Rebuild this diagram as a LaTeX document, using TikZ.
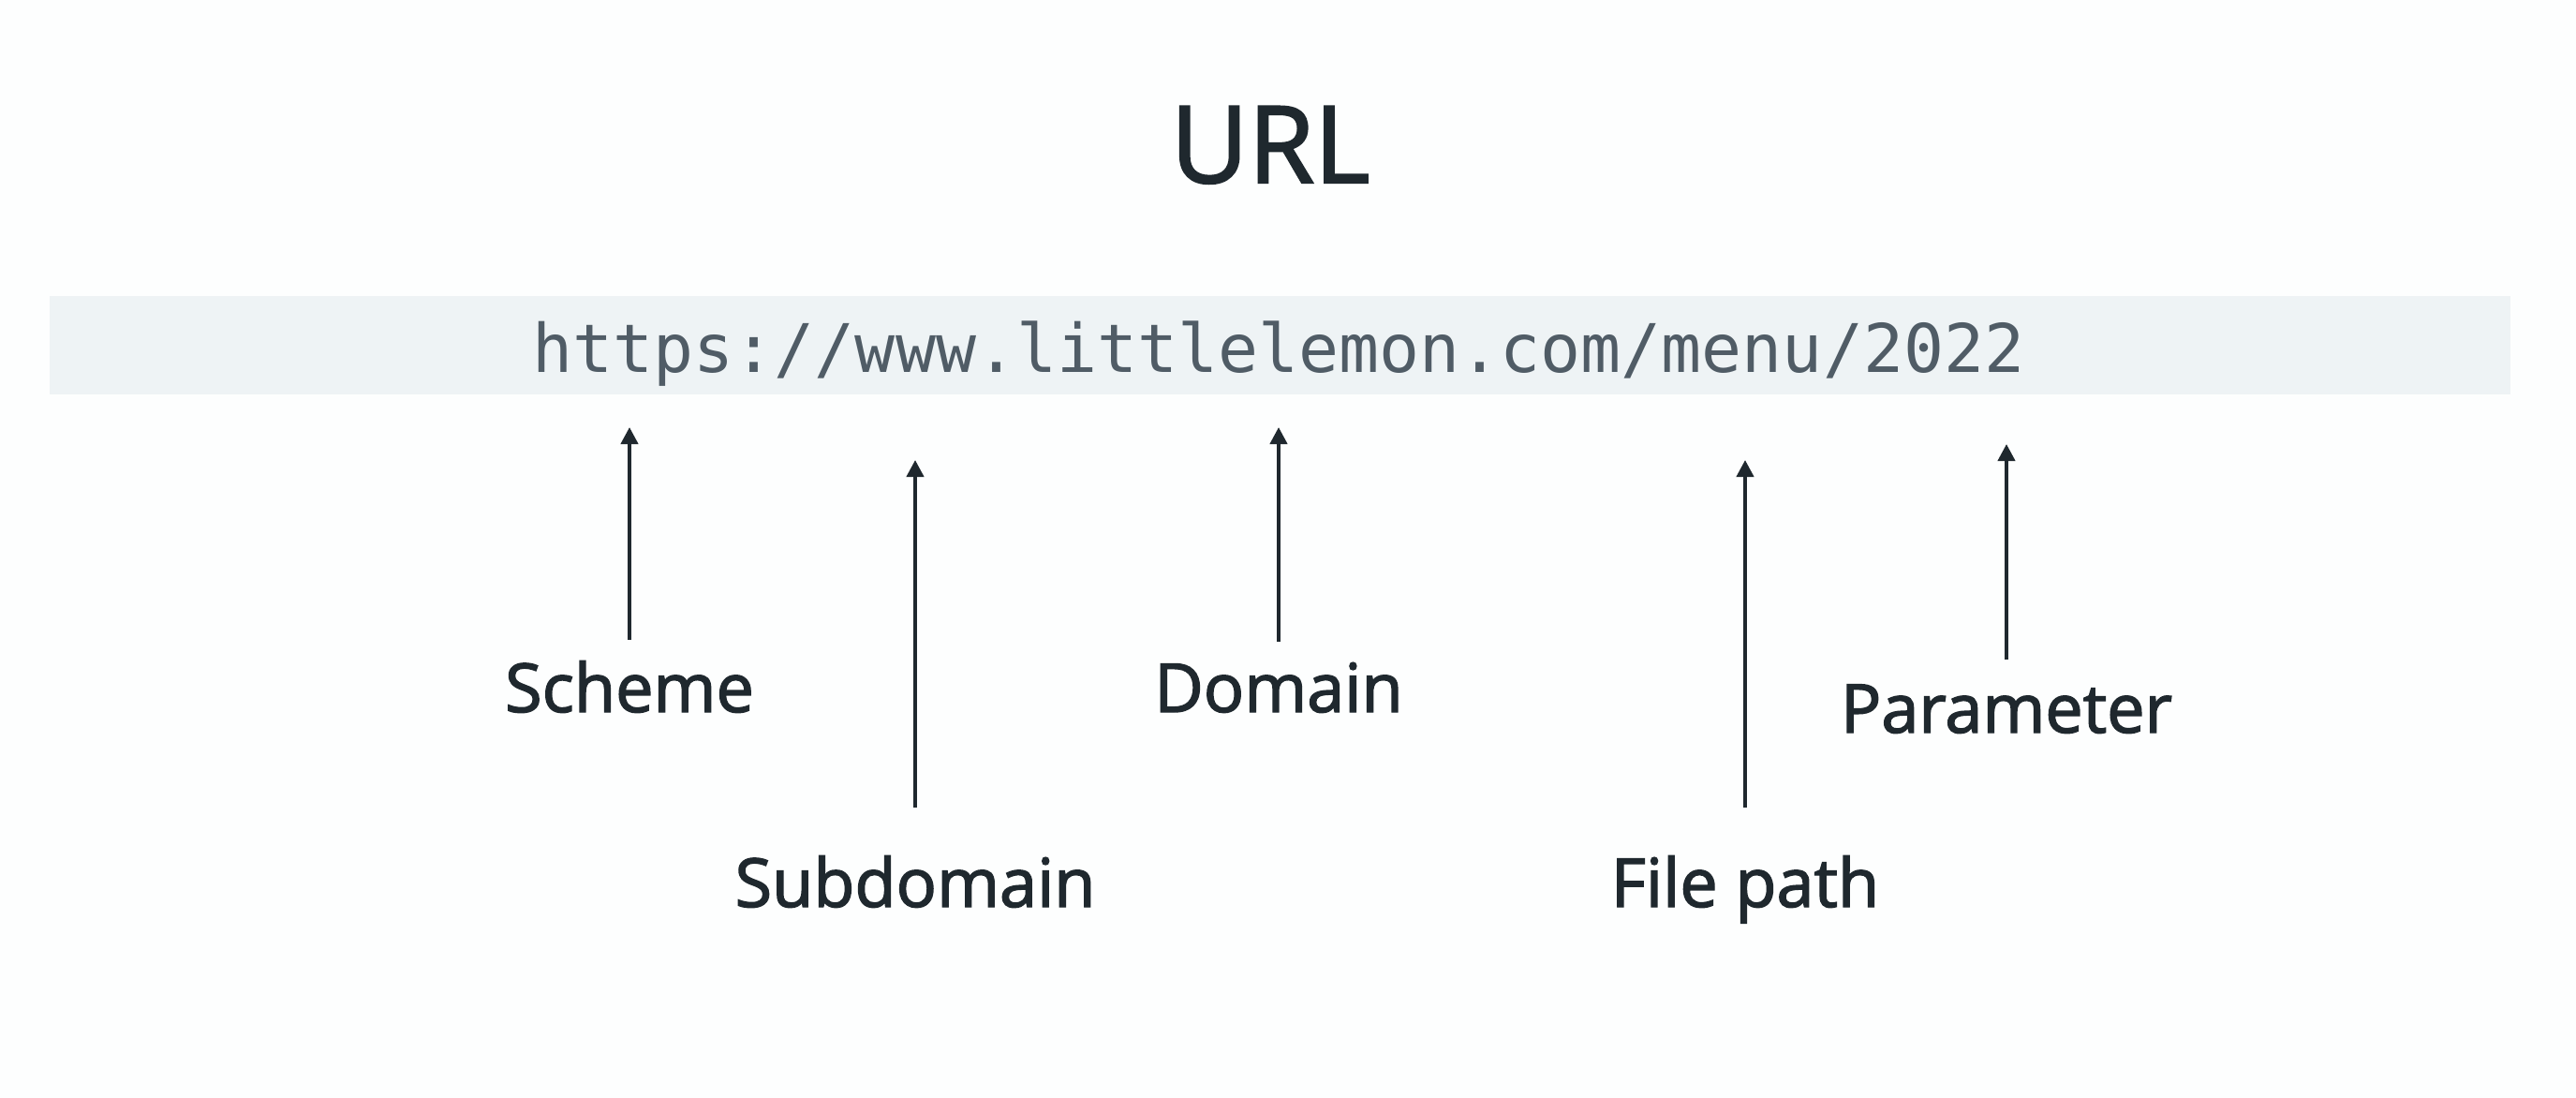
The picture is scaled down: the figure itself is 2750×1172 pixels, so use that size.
\documentclass[tikz,border=0pt]{standalone}
\usepackage{fontspec}
\setmainfont{Open Sans}[FakeBold=2]
\newfontfamily\urlmono{DejaVu Sans Mono}
\usetikzlibrary{arrows.meta}
\definecolor{ink}{HTML}{1F282E}
\definecolor{band}{HTML}{EEF3F5}
\definecolor{urlgray}{HTML}{505C66}
\definecolor{bg}{HTML}{FDFEFE}
\tikzset{
  lbl/.style={anchor=base, inner sep=0pt, text=ink, font=\fontsize{72}{80}\selectfont},
  arr/.style={draw=ink, line width=4pt, -{Triangle[length=18pt,width=18pt]}},
}
\begin{document}
\begin{tikzpicture}[x=1pt,y=-1pt]
  \fill[bg] (0,0) rectangle (2750,1172);
  \useasboundingbox (0,0) rectangle (2750,1172);
  % band
  \fill[band] (53,316) rectangle (2680,421);
  \node[anchor=base, inner sep=0pt, text=urlgray, font=\urlmono\fontsize{71.5}{80}\selectfont] (url) at (1365,397) {https://www.littlelemon.com/menu/2022};
  % title
  \node[anchor=base, inner sep=0pt, text=ink, font=\fontsize{114}{120}\selectfont] (title) at (1356,195) {URL};
  % labels
  \node[lbl] (scheme) at (672,760) {Scheme};
  \node[lbl] (subdomain) at (977,968) {Subdomain};
  \node[lbl] (domain) at (1365,760) {Domain};
  \node[lbl] (filepath) at (1863,968) {File path};
  \node[lbl] (parameter) at (2142,782) {Parameter};
  % arrow tips
  \coordinate (tS) at (672,456);
  \coordinate (tSd) at (977,491);
  \coordinate (tD) at (1365,456);
  \coordinate (tF) at (1863,491);
  \coordinate (tP) at (2142,474);
  \draw[arr, shorten <=22pt] (scheme.north) -- (tS);
  \draw[arr, shorten <=51pt] (subdomain.north) -- (tSd);
  \draw[arr, shorten <=22pt] (domain.north) -- (tD);
  \draw[arr, shorten <=51pt] (filepath.north) -- (tF);
  \draw[arr, shorten <=26pt] (parameter.north) -- (tP);
\end{tikzpicture}
\end{document}
